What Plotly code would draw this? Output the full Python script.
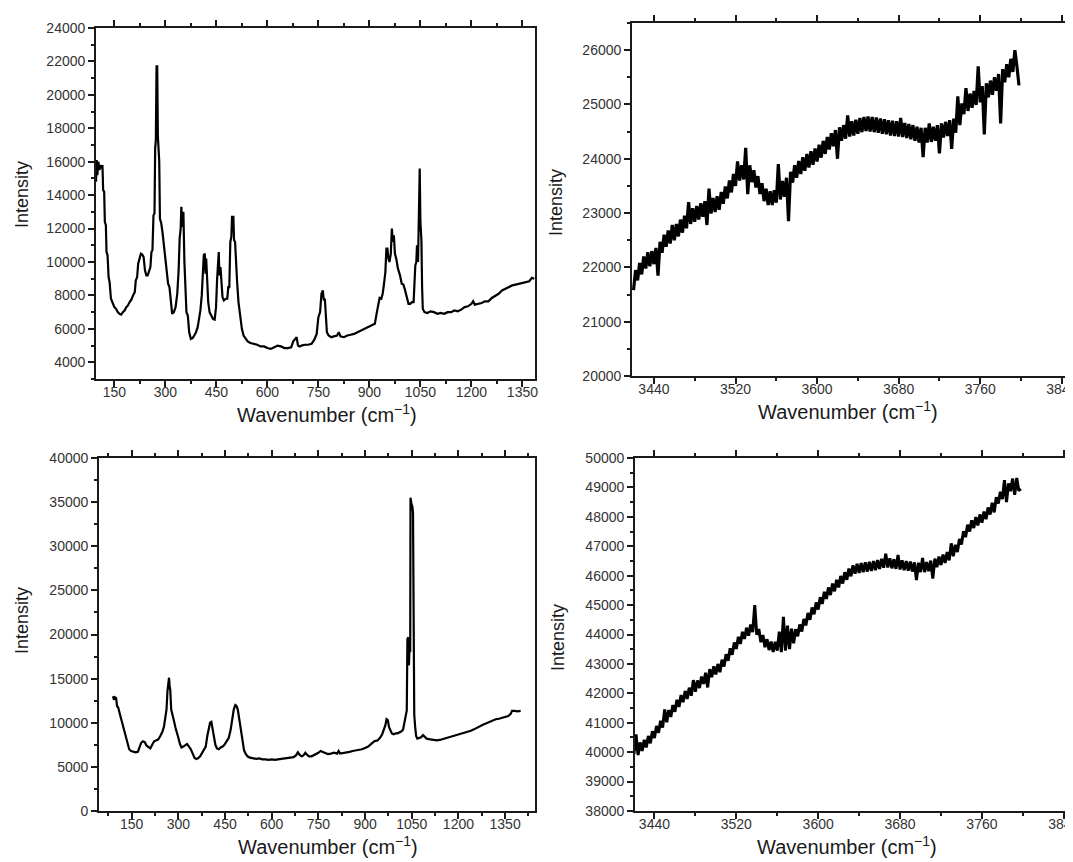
import plotly.graph_objects as go

# ---------------- data ----------------
# Panel A (top-left): low-wavenumber spectrum
tl_x = [96, 98, 100, 103, 106, 109, 112, 115, 117, 120, 122, 125, 127, 130, 133, 136, 140, 145, 150, 155,
        160, 165, 170, 175, 180, 185, 190, 195, 200, 205, 210, 213, 217, 220, 224, 228, 232, 236, 240, 244,
        248, 252, 256, 259, 262, 265, 268, 270, 272, 274, 276, 278, 280, 282, 284, 288, 292, 296, 300, 304,
        308, 312, 316, 320, 325, 330, 335, 339, 342, 345, 347, 349, 351, 353, 356, 359, 362, 366, 370, 375,
        380, 385, 390, 395, 399, 403, 407, 410, 413, 416, 418, 420, 423, 426, 430, 435, 440, 445, 449, 452,
        455, 457, 459, 462, 465, 468, 472, 478, 482, 485, 488, 491, 494, 496, 500, 502, 505, 508, 511, 515,
        520, 525, 530, 536, 542, 550, 560, 570, 580, 590, 600, 610, 620, 630, 640, 650, 660, 670, 676, 682,
        686, 690, 695, 700, 710, 720, 730, 738, 745, 750, 755, 759, 763, 766, 769, 772, 775, 780, 788, 795,
        805, 810, 815, 825, 835, 845, 855, 865, 875, 885, 895, 905, 916, 922, 926, 930, 935, 939, 943, 947,
        950, 953, 956, 959, 963, 966, 969, 972, 975, 979, 984, 990, 995, 1000, 1005, 1010, 1015, 1020, 1025, 1030,
        1032, 1035, 1038, 1040, 1043, 1045, 1048, 1050, 1053, 1055, 1057, 1062, 1070, 1080, 1090, 1100, 1110, 1120, 1130, 1140,
        1150, 1160, 1170, 1180, 1190, 1200, 1205, 1210, 1220, 1230, 1240, 1250, 1260, 1270, 1280, 1290, 1300, 1310, 1320, 1330,
        1340, 1350, 1360, 1370, 1378, 1385]
tl_y = [14800, 16100, 15200, 16000, 15500, 15800, 15600, 15800, 14300, 14200, 12400, 12200, 10600, 10400, 9100, 8800, 7800, 7500, 7300, 7200,
        7000, 6900, 6850, 7000, 7100, 7300, 7400, 7600, 7750, 8000, 8200, 8900, 9100, 9900, 10300, 10500, 10450, 10300, 9500, 9200,
        9200, 9500, 9700, 10600, 10700, 12800, 12900, 16800, 17300, 21700, 21700, 17500, 16200, 16000, 12600, 12300, 11700, 11000, 10200, 9400,
        8700, 8500, 7600, 6900, 7000, 7300, 8100, 9500, 11400, 12000, 13300, 12100, 12900, 13000, 10000, 8800, 7000, 6800, 5800, 5400,
        5450, 5600, 5800, 6100, 6550, 7100, 8000, 9200, 10400, 10500, 9300, 10200, 8600, 7600, 7000, 6750, 6600, 6550, 7300, 8900,
        9800, 10600, 9200, 9700, 8800, 7900, 7700, 7800, 7800, 8500, 8500, 11200, 11500, 12700, 12700, 11300, 11200, 9500, 8800, 7600,
        6700, 6000, 5600, 5400, 5250, 5150, 5100, 5050, 4950, 4950, 4850, 4800, 4900, 5000, 4950, 4850, 4850, 4900, 5250, 5400,
        5500, 5000, 4950, 5000, 5050, 5050, 5100, 5350, 5700, 6700, 7000, 8100, 8300, 7700, 7800, 6800, 5800, 5600, 5500, 5550,
        5600, 5800, 5550, 5500, 5600, 5650, 5700, 5800, 5900, 6000, 6100, 6200, 6300, 7000, 7500, 7850, 7800, 8100, 8700, 9400,
        10800, 10800, 10200, 10000, 10500, 12000, 11200, 11600, 10500, 10200, 9600, 9200, 8700, 8650, 8300, 7850, 7500, 7500, 7600, 7600,
        8900, 9800, 10000, 11000, 10000, 12300, 15600, 12400, 11300, 8500, 7200, 7000, 6950, 7050, 7000, 6900, 6950, 6900, 7000, 7000,
        7100, 7050, 7150, 7300, 7350, 7500, 7650, 7450, 7500, 7550, 7650, 7650, 7850, 7950, 8100, 8300, 8400, 8550, 8600, 8650,
        8700, 8750, 8800, 8850, 9050, 9000]

# Panel B (top-right): high-wavenumber spectrum (sampled every 2 cm-1)
tr_x = [3420, 3422, 3424, 3426, 3428, 3430, 3432, 3434, 3436, 3438, 3440, 3442, 3444, 3446, 3448, 3450, 3452, 3454, 3456, 3458,
        3460, 3462, 3464, 3466, 3468, 3470, 3472, 3474, 3476, 3478, 3480, 3482, 3484, 3486, 3488, 3490, 3492, 3494, 3496, 3498,
        3500, 3502, 3504, 3506, 3508, 3510, 3512, 3514, 3516, 3518, 3520, 3522, 3524, 3526, 3528, 3530, 3532, 3534, 3536, 3538,
        3540, 3542, 3544, 3546, 3548, 3550, 3552, 3554, 3556, 3558, 3560, 3562, 3564, 3566, 3568, 3570, 3572, 3574, 3576, 3578,
        3580, 3582, 3584, 3586, 3588, 3590, 3592, 3594, 3596, 3598, 3600, 3602, 3604, 3606, 3608, 3610, 3612, 3614, 3616, 3618,
        3620, 3622, 3624, 3626, 3628, 3630, 3632, 3634, 3636, 3638, 3640, 3642, 3644, 3646, 3648, 3650, 3652, 3654, 3656, 3658,
        3660, 3662, 3664, 3666, 3668, 3670, 3672, 3674, 3676, 3678, 3680, 3682, 3684, 3686, 3688, 3690, 3692, 3694, 3696, 3698,
        3700, 3702, 3704, 3706, 3708, 3710, 3712, 3714, 3716, 3718, 3720, 3722, 3724, 3726, 3728, 3730, 3732, 3734, 3736, 3738,
        3740, 3742, 3744, 3746, 3748, 3750, 3752, 3754, 3756, 3758, 3760, 3762, 3764, 3766, 3768, 3770, 3772, 3774, 3776, 3778,
        3780, 3782, 3784, 3786, 3788, 3790, 3792, 3794, 3796, 3798]
tr_y = [21580, 21950, 21760, 22080, 21870, 22200, 21980, 22280, 22020, 22300, 22060, 22360, 21850, 22470, 22270, 22600, 22380, 22680, 22440, 22780,
        22500, 22800, 22570, 22880, 22640, 22950, 22720, 23200, 22800, 23090, 22840, 23130, 22880, 23180, 22930, 23220, 22780, 23450, 22990, 23280,
        23020, 23310, 23060, 23390, 23170, 23490, 23270, 23600, 23380, 23720, 23500, 23950, 23600, 23880, 23620, 24200, 23350, 23880, 23570, 23790,
        23470, 23680, 23350, 23550, 23220, 23450, 23150, 23400, 23150, 23420, 23190, 23900, 23250, 23590, 23300, 23650, 22850, 23760, 23560, 23880,
        23650, 23960, 23720, 24030, 23780, 24090, 23840, 24140, 23890, 24190, 23950, 24260, 24020, 24330, 24090, 24400, 24170, 24470, 24230, 24530,
        24000, 24580, 24330, 24620, 24370, 24800, 24410, 24690, 24430, 24720, 24460, 24750, 24490, 24770, 24510, 24780, 24500, 24770, 24490, 24760,
        24480, 24740, 24460, 24730, 24450, 24710, 24430, 24700, 24420, 24690, 24410, 24750, 24400, 24660, 24380, 24640, 24360, 24620, 24330, 24590,
        24300, 24570, 24030, 24570, 24300, 24650, 24310, 24590, 24330, 24620, 24100, 24650, 24390, 24680, 24420, 24710, 24180, 24740, 24480, 25150,
        24620, 25020, 24820, 25300, 24880, 25200, 24940, 25250, 24990, 25700, 25040, 25340, 24450, 25390, 25130, 25440, 25180, 25500, 25250, 25560,
        24650, 25650, 25410, 25740, 25500, 25840, 25600, 26000, 25700, 25350]

# Panel C (bottom-left): low-wavenumber spectrum
bl_x = [90, 93, 96, 100, 103, 107, 112, 118, 124, 130, 136, 142, 148, 155, 163, 170, 175, 180, 186, 192,
        198, 204, 210, 216, 222, 228, 235, 242, 249, 254, 258, 262, 265, 268, 270, 272, 274, 277, 281, 286,
        291, 296, 300, 305, 310, 316, 322, 328, 334, 340, 346, 352, 358, 364, 370, 376, 382, 388, 393, 398,
        402, 406, 410, 414, 419, 424, 430, 436, 442, 448, 455, 462, 468, 474, 478, 483, 487, 491, 494, 498,
        502, 506, 511, 516, 522, 530, 540, 550, 560, 570, 580, 590, 600, 610, 620, 630, 640, 650, 660, 670,
        678, 684, 690, 696, 702, 708, 714, 720, 728, 735, 742, 750, 757, 764, 772, 780, 790, 800, 810, 815,
        820, 830, 840, 850, 860, 870, 880, 890, 900, 910, 920, 930, 940, 948, 955, 960, 965, 969, 973, 977,
        981, 986, 992, 998, 1004, 1010, 1016, 1022, 1026, 1030, 1034, 1036, 1039, 1041, 1043, 1045, 1046, 1049, 1052, 1054,
        1056, 1058, 1061, 1064, 1068, 1074, 1080, 1086, 1092, 1098, 1105, 1112, 1120, 1130, 1140, 1150, 1160, 1170, 1180, 1190,
        1200, 1210, 1220, 1230, 1240, 1250, 1260, 1270, 1280, 1290, 1300, 1310, 1320, 1330, 1340, 1350, 1360, 1368, 1372, 1380,
        1390, 1400]
bl_y = [13000, 12600, 12900, 12800, 11900, 11700, 11000, 10200, 9100, 8300, 7600, 7000, 6800, 6700, 6650, 6700, 7300, 7700, 7900, 7800,
        7400, 7200, 7100, 7500, 7900, 8000, 8100, 8500, 9000, 9600, 10900, 11500, 13600, 14500, 15100, 14200, 13700, 11500, 11000, 10200,
        9400, 8900, 8300, 7600, 7200, 7300, 7500, 7600, 7300, 7000, 6500, 6000, 5900, 6000, 6200, 6600, 7000, 7300, 8500, 9200,
        10000, 10100, 9200, 8200, 7500, 7100, 7000, 7200, 7300, 7500, 7900, 8300, 9200, 10600, 11500, 12000, 11900, 11500, 10800, 9400,
        8800, 7800, 6900, 6500, 6200, 6050, 6000, 5900, 5950, 5850, 5850, 5800, 5850, 5800, 5850, 5900, 5950, 6000, 6050, 6100,
        6300, 6650, 6350, 6200, 6300, 6600, 6350, 6200, 6200, 6300, 6450, 6600, 6800, 6700, 6600, 6450, 6500, 6600, 6500, 6800,
        6500, 6550, 6600, 6700, 6800, 6850, 6950, 7000, 7150, 7300, 7600, 7900, 8000, 8300, 8700, 9200, 9700, 10400, 10300, 9500,
        9100, 8800, 8700, 8800, 8800, 8900, 9000, 9200, 9900, 10600, 11400, 19500, 19700, 16500, 18800, 18000, 35500, 34800, 34500, 33800,
        15000, 10900, 9500, 8500, 8200, 8300, 8350, 8600, 8400, 8200, 8150, 8100, 8050, 8000, 8050, 8150, 8250, 8350, 8450, 8600,
        8700, 8800, 8850, 9000, 9100, 9250, 9450, 9600, 9800, 9950, 10100, 10250, 10400, 10450, 10550, 10700, 10750, 11000, 11350, 11350,
        11300, 11350]

# Panel D (bottom-right): high-wavenumber spectrum (sampled every 2 cm-1)
br_x = list(tr_x)
br_y = [39940, 40600, 39900, 40330, 40040, 40420, 40160, 40550, 40300, 40710, 40480, 40890, 40660, 41070, 40840, 41450, 41020, 41430, 41200, 41600,
        41370, 41780, 41540, 41940, 41700, 42080, 41810, 42190, 41920, 42450, 42050, 42440, 42180, 42570, 42320, 42700, 42200, 42820, 42550, 42920,
        42640, 43000, 42720, 43140, 42910, 43330, 43110, 43530, 43310, 43730, 43510, 43920, 43680, 44090, 43850, 44230, 43960, 44340, 44080, 45000,
        43990, 44190, 43740, 43980, 43570, 43840, 43470, 43760, 43410, 43750, 43450, 44100, 43400, 44600, 43450, 44300, 43500, 44200, 43700, 44180,
        43940, 44340, 44100, 44530, 44310, 44730, 44500, 44920, 44690, 45090, 44850, 45270, 45040, 45450, 45210, 45600, 45340, 45730, 45470, 45860,
        45600, 45990, 45730, 46120, 45860, 46240, 45980, 46350, 46070, 46400, 46090, 46430, 46120, 46450, 46140, 46470, 46160, 46500, 46190, 46530,
        46230, 46570, 46270, 46750, 46280, 46590, 46250, 46560, 46230, 46700, 46210, 46520, 46190, 46500, 46170, 46480, 46140, 46450, 45850, 46440,
        46120, 46600, 46120, 46460, 46150, 46510, 45900, 46580, 46290, 46650, 46360, 46720, 46430, 46800, 46520, 47100, 46660, 47050, 46800, 47250,
        47060, 47510, 47310, 47730, 47500, 47880, 47620, 47990, 47710, 48080, 47800, 48180, 47920, 48320, 48080, 48480, 48150, 48670, 48450, 48850,
        48600, 49250, 48500, 49140, 48870, 49300, 48750, 49320, 48890, 48950]

# ---------------- figure ----------------
W, H = 1073, 862
INK = "#1a1a1a"
TXT = "#333333"
FONT = "Liberation Sans, Arial, sans-serif"

fig = go.Figure()
fig.add_trace(go.Scatter(x=tl_x, y=tl_y, mode="lines", line=dict(color="black", width=2.2), xaxis="x", yaxis="y"))
fig.add_trace(go.Scatter(x=tr_x, y=tr_y, mode="lines", line=dict(color="black", width=3.2), xaxis="x2", yaxis="y2"))
fig.add_trace(go.Scatter(x=bl_x, y=bl_y, mode="lines", line=dict(color="black", width=2.2), xaxis="x3", yaxis="y3"))
fig.add_trace(go.Scatter(x=br_x, y=br_y, mode="lines", line=dict(color="black", width=3.0), xaxis="x4", yaxis="y4"))


def px_x(a, b):
    return [a / W, b / W]


def px_y(top, bottom):
    return [1 - bottom / H, 1 - top / H]


def xax(dom, rng, tick0, dtick, mdtick, anchor):
    return dict(domain=dom, range=rng, anchor=anchor, tickmode="linear", tick0=tick0, dtick=dtick,
                tickformat="d",
                ticks="outside", ticklen=6, tickwidth=1.5, tickcolor=INK,
                minor=dict(ticks="outside", ticklen=3, tickwidth=1.5, tickcolor=INK, dtick=mdtick, tick0=tick0),
                showline=True, linewidth=1.8, linecolor=INK, mirror="ticks",
                showgrid=False, zeroline=False, automargin=False, ticklabelstandoff=-7,
                tickfont=dict(family=FONT, size=14, color=TXT))


def yax(dom, rng, dtick, mdtick, anchor):
    return dict(domain=dom, range=rng, anchor=anchor, tickmode="linear", tick0=0, dtick=dtick,
                tickformat="d",
                ticks="outside", ticklen=6, tickwidth=1.5, tickcolor=INK,
                minor=dict(ticks="outside", ticklen=3, tickwidth=1.5, tickcolor=INK, dtick=mdtick, tick0=0),
                showline=True, linewidth=1.8, linecolor=INK, mirror=True,
                showgrid=False, zeroline=False, automargin=False, ticklabelstandoff=0,
                tickfont=dict(family=FONT, size=14, color=TXT))


fig.update_layout(
    width=W, height=H, autosize=False,
    margin=dict(l=0, r=0, t=0, b=0),
    paper_bgcolor="white", plot_bgcolor="white",
    showlegend=False,
    xaxis=xax(px_x(88, 527), [96, 1387], 0, 150, 75, "y"),
    yaxis=yax(px_y(20, 371), [3000, 24000], 2000, 1000, "x"),
    xaxis2=xax(px_x(624, 1064), [3418.5, 3850], 3440, 80, 40, "y2"),
    yaxis2=yax(px_y(15, 368), [20000, 26500], 1000, 500, "x2"),
    xaxis3=xax(px_x(91, 527), [45, 1446], 0, 150, 75, "y3"),
    yaxis3=yax(px_y(450, 803), [0, 40000], 5000, 2500, "x3"),
    xaxis4=xax(px_x(627, 1064), [3421, 3848], 3440, 80, 40, "y4"),
    yaxis4=yax(px_y(450, 803), [38000, 50000], 1000, 500, "x4"),
)

xtitle = "Wavenumber (cm<sup>−1</sup>)"
for cx, cy in [(319, 405), (840, 403), (320, 837), (839, 837)]:
    fig.add_annotation(text=xtitle, xref="paper", yref="paper", x=cx / W, y=1 - cy / H,
                       xanchor="center", yanchor="middle", showarrow=False,
                       font=dict(family=FONT, size=20, color=INK))
for cx, cy in [(14, 187), (548, 195), (14, 613), (550, 630)]:
    fig.add_annotation(text="Intensity", xref="paper", yref="paper", x=cx / W, y=1 - cy / H,
                       xanchor="center", yanchor="middle", showarrow=False, textangle=-90,
                       font=dict(family=FONT, size=18, color=INK))

fig.write_html("out.html")
